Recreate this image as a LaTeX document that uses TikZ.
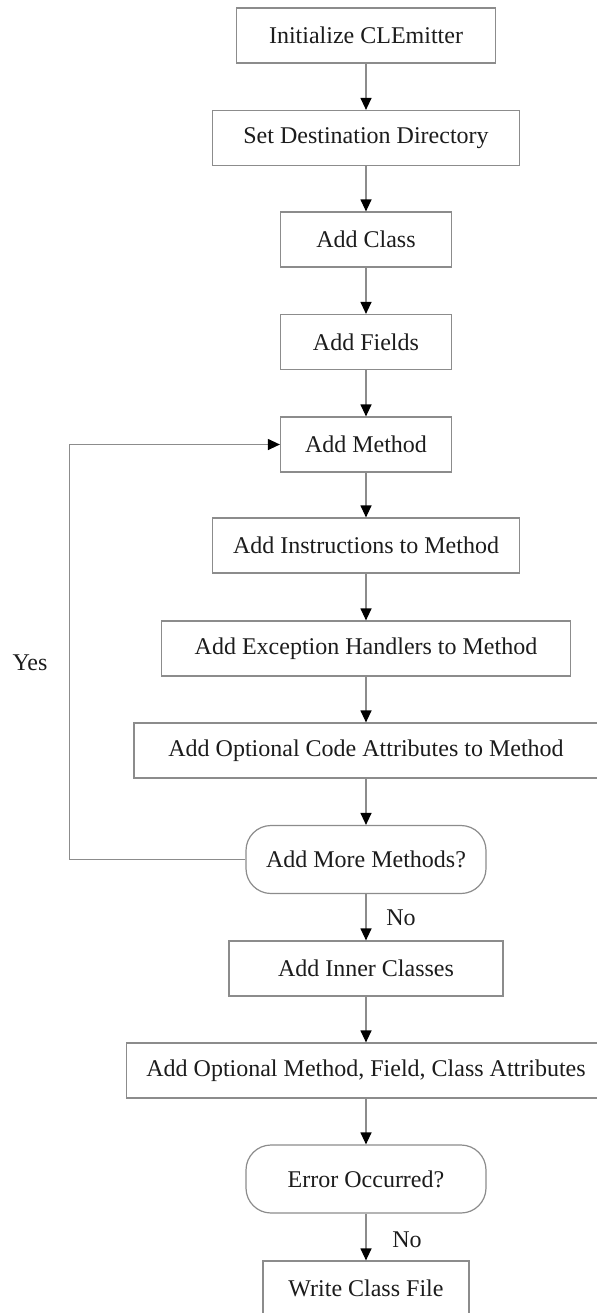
\documentclass[tikz,border=0pt]{standalone}
\usepackage{fontspec}
\setmainfont{Liberation Serif}
\usetikzlibrary{arrows.meta,positioning}
\definecolor{LineGray}{HTML}{8C8C8C}
\definecolor{DarkText}{HTML}{1C1C1C}
\tikzset{
  stepbox/.style={draw=LineGray, line width=.6pt, fill=white, text=DarkText, minimum height=27.5pt, inner sep=2pt, align=center, font=\fontsize{12}{14}\selectfont},
  askbox/.style={stepbox, rounded corners=12.5pt, minimum height=34pt},
  lbl/.style={text=DarkText, font=\fontsize{12}{14}\selectfont},
  arr/.style={-{Triangle[length=6pt,width=5.5pt,color=black]}, line width=.6pt, draw=LineGray}
}
\begin{document}
\begin{tikzpicture}[x=.5pt,y=-.5pt]
\useasboundingbox (0,0) rectangle (596,1313);
% main column
\node[stepbox,minimum width=129.5pt] (init) at (366,35.5) {Initialize CLEmitter};
\node[stepbox,minimum width=153.75pt] (dest) at (366,138) {Set Destination Directory};
\node[stepbox,minimum width=85.5pt] (class) at (366,239.5) {Add Class};
\node[stepbox,minimum width=85.5pt] (fields) at (366,342) {Add Fields};
\node[stepbox,minimum width=85.5pt] (method) at (366,444.5) {Add Method};
\node[stepbox,minimum width=153.75pt] (instr) at (366,545.5) {Add Instructions to Method};
\node[stepbox,minimum width=204.75pt] (handlers) at (366,648.5) {Add Exception Handlers to Method};
\node[stepbox,minimum width=232pt] (codeattr) at (366,750.5) {Add Optional Code Attributes to Method};
\node[askbox,minimum width=120pt] (more) at (366,859.5) {Add More Methods?};
\node[stepbox,minimum width=137pt] (inner) at (366,968.5) {Add Inner Classes};
\node[stepbox,minimum width=239.5pt] (attrs) at (366,1070.5) {Add Optional Method, Field, Class Attributes};
\node[askbox,minimum width=120pt] (error) at (366,1179) {Error Occurred?};
\node[stepbox,minimum width=103pt] (write) at (366,1288.5) {Write Class File};
% labels
\node[lbl] (yes) at (30,663) {Yes};
\node[lbl] (no1) at (401,918) {No};
\node[lbl] (no2) at (407,1240) {No};
% connectors
\draw[arr] (init) -- (dest);
\draw[arr] (dest) -- (class);
\draw[arr] (class) -- (fields);
\draw[arr] (fields) -- (method);
\draw[arr] (method) -- (instr);
\draw[arr] (instr) -- (handlers);
\draw[arr] (handlers) -- (codeattr);
\draw[arr] (codeattr) -- (more);
\draw[arr] (more) -- (inner);
\draw[arr] (inner) -- (attrs);
\draw[arr] (attrs) -- (error);
\draw[arr] (error) -- (write);
\draw[arr] (more.west) -- ++(-176,0) |- (method.west);
\end{tikzpicture}
\end{document}
